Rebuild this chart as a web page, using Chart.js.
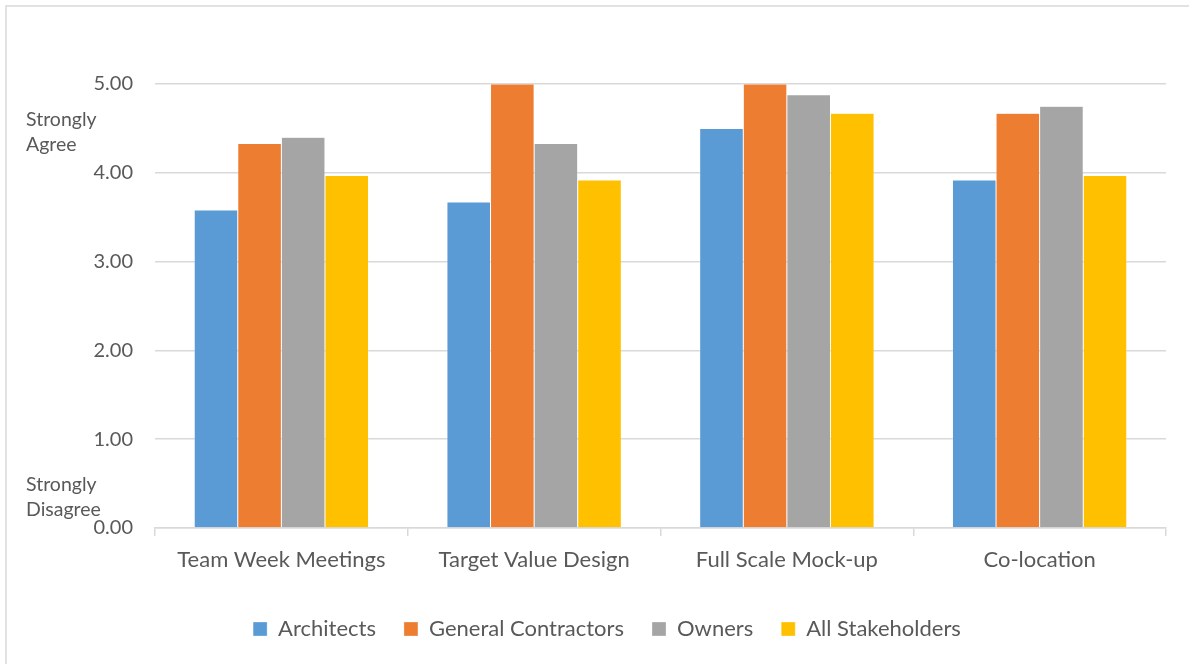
<!DOCTYPE html>
<html>
<head>
<meta charset="utf-8">
<script src="https://cdn.jsdelivr.net/npm/chart.js@4/dist/chart.umd.min.js"></script>
<style>
  html, body { margin: 0; padding: 0; background: #fff; }
  #wrap { width: 1189px; height: 664px; position: relative; }
</style>
</head>
<body>
<div id="wrap"><canvas id="c" width="1189" height="664"></canvas></div>
<script>
// Survey practices and mean agreement per stakeholder group (0 = strongly disagree, 5 = strongly agree)
const categories = ["Team Week Meetings", "Target Value Design", "Full Scale Mock-up", "Co-location"];
const architects = [3.58, 3.67, 4.50, 3.92];
const generalContractors = [4.33, 5.00, 5.00, 4.67];
const owners = [4.40, 4.33, 4.88, 4.75];
const allStakeholders = [3.97, 3.92, 4.67, 3.97];
const seriesNames = ["Architects", "General Contractors", "Owners", "All Stakeholders"];
const yTicks = [0, 1, 2, 3, 4, 5];

const FONT = "Lato, 'Open Sans', sans-serif";
const TEXT = "#595959";
const GRID = "#d9d9d9";

// Frame around the chart and the two scale captions at the left
const decor = {
  id: "decor",
  beforeDraw(chart) {
    const ctx = chart.ctx;
    ctx.save();
    ctx.fillStyle = "#fff";
    ctx.fillRect(0, 0, chart.width, chart.height);
    ctx.strokeStyle = GRID;
    ctx.lineWidth = 1.5;
    ctx.beginPath();
    ctx.moveTo(6, chart.height + 5);
    ctx.lineTo(6, 6);
    ctx.lineTo(chart.width + 5, 6);
    ctx.stroke();
    ctx.restore();
  },
  afterDraw(chart) {
    const ctx = chart.ctx;
    ctx.save();
    ctx.fillStyle = TEXT;
    ctx.font = "19.5px " + FONT;
    ctx.textBaseline = "middle";
    ctx.textAlign = "left";
    ctx.fillText("Strongly", 26, 120);
    ctx.fillText("Agree", 26, 145);
    ctx.fillText("Strongly", 26, 485);
    ctx.fillText("Disagree", 26, 510);
    ctx.restore();
  }
};

const colors = ["#5B9BD5", "#ED7D31", "#A5A5A5", "#FFC000"];
const values = [architects, generalContractors, owners, allStakeholders];

new Chart(document.getElementById("c"), {
  type: "bar",
  data: {
    labels: categories,
    datasets: seriesNames.map((name, i) => ({
      label: name,
      data: values[i],
      backgroundColor: colors[i],
      borderColor: "rgba(255,255,255,0.6)",
      borderWidth: 0.5,
      categoryPercentage: 0.69,
      barPercentage: 1.0
    }))
  },
  options: {
    responsive: false,
    animation: false,
    devicePixelRatio: 1,
    layout: { padding: { top: 84, right: 23, left: 48, bottom: 14 } },
    plugins: {
      tooltip: { enabled: false },
      legend: {
        position: "bottom",
        labels: {
          color: TEXT,
          font: { family: FONT, size: 22 },
          boxWidth: 14,
          boxHeight: 14,
          padding: 28
        }
      }
    },
    scales: {
      x: {
        grid: {
          offset: true,
          drawOnChartArea: false,
          drawTicks: true,
          tickLength: 8,
          color: GRID,
          lineWidth: 1.5
        },
        border: { color: GRID, width: 1.5 },
        ticks: { color: TEXT, font: { family: FONT, size: 22 }, padding: 11 },
        afterFit(scale) { scale.height = 62; }
      },
      y: {
        min: 0,
        max: 5,
        afterBuildTicks(scale) { scale.ticks = yTicks.map(v => ({ value: v })); },
        grid: { color: GRID, lineWidth: 1.5, drawTicks: false },
        border: { display: false },
        ticks: {
          color: TEXT,
          font: { family: FONT, size: 20 },
          padding: 22,
          callback: v => Number(v).toFixed(2)
        },
        afterFit(scale) { scale.width = 107; }
      }
    }
  },
  plugins: [decor]
});
</script>
</body>
</html>
